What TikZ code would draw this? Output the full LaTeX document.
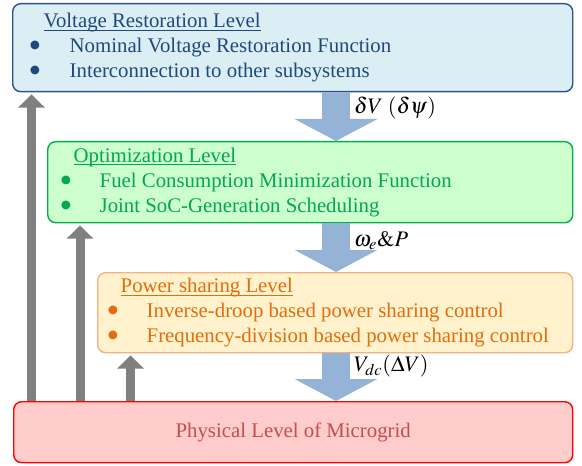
\documentclass[tikz,border=0pt]{standalone}
\usepackage{mathptmx}
\usepackage[no-math]{fontspec}
\setmainfont{Liberation Serif}
\usepackage{tikz}
\usetikzlibrary{arrows.meta}
\definecolor{vrfill}{HTML}{DAEEF3}
\definecolor{vrdraw}{HTML}{2F528F}
\definecolor{vrtext}{HTML}{1F497D}
\definecolor{optfill}{HTML}{CCFFCC}
\definecolor{optdraw}{HTML}{00B050}
\definecolor{opttext}{HTML}{00A850}
\definecolor{psfill}{HTML}{FFF2CC}
\definecolor{psdraw}{HTML}{F4B183}
\definecolor{pstext}{HTML}{E46C0A}
\definecolor{phyfill}{HTML}{FFCCCC}
\definecolor{phydraw}{HTML}{FF0000}
\definecolor{phytext}{HTML}{C0504D}
\definecolor{flowblue}{HTML}{95B3D7}
\definecolor{feedgray}{HTML}{808080}
\newlength{\titlewd}
\newcommand{\leveltitle}[1]{\settowidth{\titlewd}{#1}#1\hspace*{-\titlewd}\rule[-0.14em]{\titlewd}{0.6pt}}
\newcommand{\levelitem}[3]{\makebox[#2][l]{\hspace*{#1}\smash{\raisebox{-0.24em}{\scalebox{1.75}{\textbullet}}}}#3}
\tikzset{
    level-box/.style = {rectangle, rounded corners=0.2cm, line width=1pt, inner sep=0pt, anchor=north west, font=\fontsize{14.8pt}{17.8pt}\selectfont},
    down-arrow/.style = {draw=flowblue, line width=0.7cm, -{Triangle[width=2.05cm,length=0.55cm]}},
    up-arrow/.style = {draw=feedgray, line width=0.225cm, -{Triangle[width=0.65cm,length=0.33cm]}, shorten >=0.05cm},
    flow-label/.style = {anchor=west, inner sep=0pt, outer sep=0pt, xshift=0.45cm, font=\fontsize{15.8pt}{18pt}\selectfont},
}

\begin{document}
\begin{tikzpicture}
\useasboundingbox (0,0) rectangle (14.55,11.625);
\coordinate (flow) at (8.4,0);
\coordinate (back1) at (0.7875,0);
\coordinate (back2) at (2.0,0);
\coordinate (back3) at (3.2625,0);

\node [level-box, draw=vrdraw, fill=vrfill, text=vrtext, minimum width=14cm, minimum height=2.2cm] (voltage) at (0.3,11.55) {\begin{minipage}{14cm}
    \hspace*{0.775cm}\leveltitle{Voltage Restoration Level}\\
    \levelitem{0.4cm}{1.425cm}{Nominal Voltage Restoration Function}\\
    \levelitem{0.4cm}{1.425cm}{Interconnection to other subsystems}
\end{minipage}};
\node [level-box, draw=optdraw, fill=optfill, text=opttext, minimum width=13.125cm, minimum height=2.025cm] (optim) at (1.175,8.1) {\begin{minipage}{13.125cm}
    \hspace*{0.65cm}\leveltitle{Optimization Level}\\
    \levelitem{0.3cm}{1.3cm}{Fuel Consumption Minimization Function}\\
    \levelitem{0.3cm}{1.3cm}{Joint SoC-Generation Scheduling}
\end{minipage}};
\node [level-box, draw=psdraw, fill=psfill, text=pstext, minimum width=11.875cm, minimum height=2cm] (sharing) at (2.425,4.825) {\begin{minipage}{11.875cm}
    \hspace*{0.575cm}\leveltitle{Power sharing Level}\\
    \levelitem{0.225cm}{1.225cm}{Inverse-droop based power sharing control}\\
    \levelitem{0.225cm}{1.225cm}{Frequency-division based power sharing control}
\end{minipage}};
\node [level-box, draw=phydraw, fill=phyfill, text=phytext, minimum width=13.975cm, minimum height=1.525cm] (physical) at (0.325,1.6) {Physical Level of Microgrid};

% commands going down
\draw [down-arrow] (voltage.south -| flow) -- (optim.north -| flow) node [flow-label, pos=0.32] {$\delta V\;(\delta\psi)$};
\draw [down-arrow] (optim.south -| flow) -- (sharing.north -| flow) node [flow-label, pos=0.36] {$\omega_{e}\&P$};
\draw [down-arrow] (sharing.south -| flow) -- (physical.north -| flow) node [flow-label, pos=0.27] {$V_{dc}(\Delta V)$};

% feedback going up
\draw [up-arrow] (physical.north -| back1) -- (voltage.south -| back1);
\draw [up-arrow] (physical.north -| back2) -- (optim.south -| back2);
\draw [up-arrow] (physical.north -| back3) -- (sharing.south -| back3);
\end{tikzpicture}
\end{document}
